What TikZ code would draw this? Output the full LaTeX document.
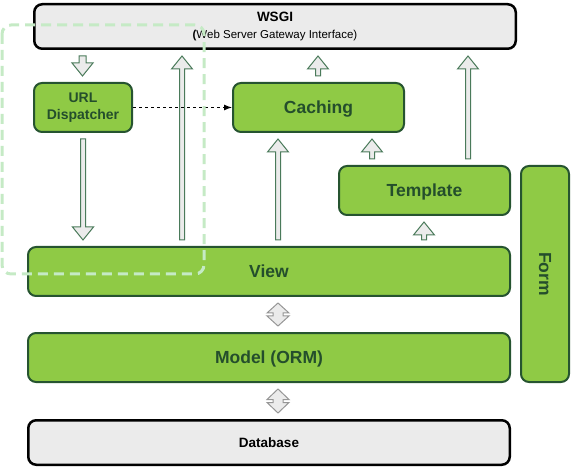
\documentclass[tikz,border=0pt]{standalone}
\usepackage{fontspec}
\setmainfont{Liberation Sans}
\usetikzlibrary{positioning,calc,arrows.meta}
\definecolor{djfill}{RGB}{143,202,69}
\definecolor{djline}{RGB}{38,84,48}
\definecolor{djtext}{RGB}{36,78,44}
\definecolor{djgray}{RGB}{235,235,235}
\definecolor{arrline}{RGB}{74,122,90}
\definecolor{dblline}{RGB}{150,150,150}
\definecolor{zone}{RGB}{197,234,197}

% hollow block arrow: x, from, to, half shaft width
\newcommand{\blkarr}[4]{%
  \draw[blk] let \p1=(#2), \p2=(#3), \n1={ifthenelse(\y2>\y1,1,-1)} in
    ({#1pt-#4pt},{\y1+6pt*\n1}) -- ({#1pt-#4pt},{\y2-19pt*\n1}) -- ({#1pt-10.5pt},{\y2-19pt*\n1})
    -- ({#1pt},{\y2-6pt*\n1}) -- ({#1pt+10.5pt},{\y2-19pt*\n1}) -- ({#1pt+#4pt},{\y2-19pt*\n1})
    -- ({#1pt+#4pt},{\y1+6pt*\n1}) -- cycle;}
% double headed diamond: x, upper, lower
\newcommand{\dblarr}[3]{%
  \draw[dbl] let \p1=(#2), \p2=(#3), \p3=($(#2)!0.5!(#3)$) in
    ({#1pt},{\y1-6pt}) -- ({#1pt+11pt},{\y3+1.5pt}) -- ({#1pt+5pt},{\y3+1.5pt})
    -- ({#1pt+5pt},{\y3-1.5pt}) -- ({#1pt+11pt},{\y3-1.5pt}) -- ({#1pt},{\y2+6pt})
    -- ({#1pt-11pt},{\y3-1.5pt}) -- ({#1pt-5pt},{\y3-1.5pt}) -- ({#1pt-5pt},{\y3+1.5pt})
    -- ({#1pt-11pt},{\y3+1.5pt}) -- cycle;}

\begin{document}
\begin{tikzpicture}[x=1pt,y=1pt,>=Latex,
    grn/.style={draw=djline,line width=2pt,fill=djfill,rounded corners=8pt,text=djtext,
      align=center,inner sep=0pt,font=\fontsize{17.5}{20}\selectfont\bfseries},
    one/.style={text height=12pt,text depth=0pt},
    gry/.style={draw=black,line width=2.5pt,fill=djgray,rounded corners=8pt,
      align=center,inner sep=0pt,font=\fontsize{13.5}{16}\selectfont\bfseries},
    blk/.style={draw=arrline,fill=djgray,line width=1pt},
    dbl/.style={draw=dblline,fill=djgray,line width=1pt}]
  \useasboundingbox (0,0) rectangle (573,469);
  \node[gry,minimum width=481.5pt,minimum height=44.5pt] (wsgi) at (275,442.5)
    {WSGI\\[1pt]{\fontsize{11.5}{14}\selectfont\textbf{(}\mdseries Web Server Gateway Interface)}};
  \node[grn,minimum width=98pt,minimum height=49pt,font=\fontsize{14}{17}\selectfont\bfseries] (disp) at (83,361.5) {URL\\Dispatcher};
  \node[grn,one,minimum width=171pt,minimum height=49pt] (cach) at (318.5,361.5) {Caching};
  \node[grn,one,minimum width=171pt,minimum height=49pt] (tmpl) at (424.5,278.5) {Template};
  \node[grn,one,minimum width=482pt,minimum height=49pt] (view) at (269,197.5) {View};
  \node[grn,one,minimum width=482pt,minimum height=49pt,below=35pt of view] (orm) {Model (ORM)};
  \node[gry,text height=9.5pt,text depth=0pt,minimum width=481.5pt,minimum height=44.5pt,below=36pt of orm] (db) {Database};
  \node[grn,one,rotate=-90,minimum width=216pt,minimum height=48pt] (form) at (545,195) {Form};
  % block arrows
  \blkarr{82.5}{wsgi.south}{disp.north}{3.5}
  \blkarr{83}{disp.south}{view.north}{2.5}
  \blkarr{182}{view.north}{wsgi.south}{2.5}
  \blkarr{278}{view.north}{cach.south}{2.5}
  \blkarr{318}{cach.north}{wsgi.south}{2.5}
  \blkarr{468}{tmpl.north}{wsgi.south}{2.5}
  \blkarr{372}{tmpl.north}{cach.south}{2.5}
  \blkarr{424}{view.north}{tmpl.south}{2.5}
  \dblarr{278}{view.south}{orm.north}
  \dblarr{278}{orm.south}{db.north}
  \draw[-{Latex[length=8pt,width=6pt]},dashed,line width=1pt] (disp.east) -- (cach.west);
  % url dispatcher zone
  \draw[zone,line width=3pt,dash pattern=on 10pt off 6pt,rounded corners=9pt]
    (2,444) rectangle (204,195);
\end{tikzpicture}
\end{document}
